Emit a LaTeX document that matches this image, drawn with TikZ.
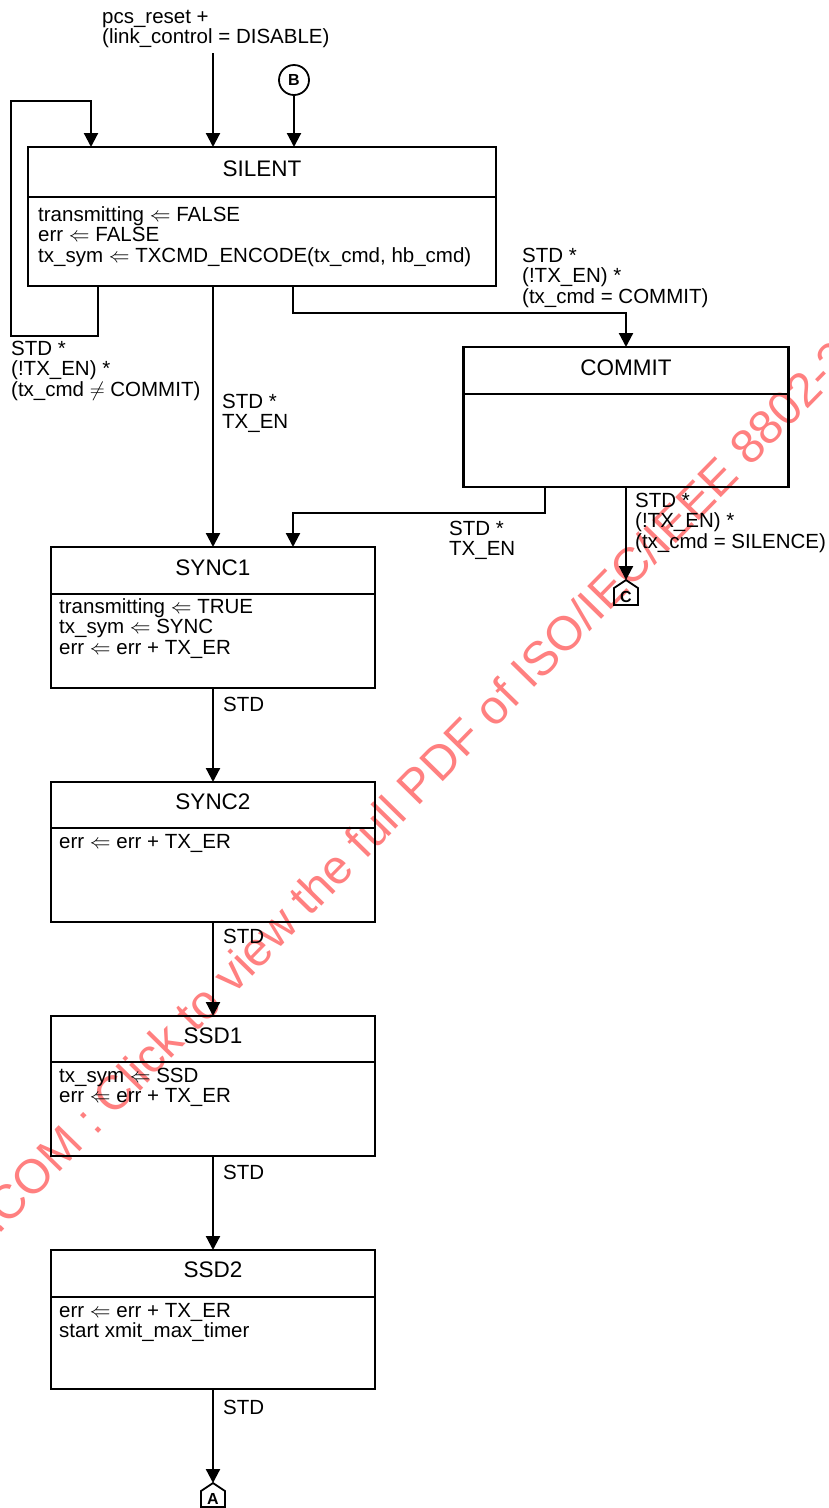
\documentclass[tikz,border=0pt]{standalone}
\usepackage{fontspec}
\setmainfont{Liberation Sans}
\usetikzlibrary{arrows.meta}
\tikzset{
  statebox/.style={draw, line width=2.2pt, inner sep=0pt, outer sep=0pt, minimum width=324pt},
  ttl/.style={anchor=base, inner sep=0pt, font=\fontsize{22.5}{24}\selectfont},
  txt/.style={anchor=base west, align=left, inner sep=0pt, font=\fontsize{20.5}{20.7}\selectfont},
  wire/.style={line width=2.2pt},
  arr/.style={wire, -{Triangle[length=14pt,width=14pt]}},
  conn/.style={line width=1.8pt},
  connlbl/.style={inner sep=0pt, font=\fontsize{16}{16}\selectfont\bfseries},
  wm/.style={anchor=base west, rotate=45.6, inner sep=0pt, text=red!50, font=\fontsize{48}{48}\selectfont}
}
\begin{document}
\begin{tikzpicture}[x=1pt,y=-1pt]
\useasboundingbox (0,0) rectangle (829,1508);
\fill[white] (0,0) rectangle (829,1508);
% watermark
\begin{scope}
\clip (0,0) rectangle (829,1508);
\node[wm] (wmark) at (-2,1236) {.COM : Click to view the full PDF of ISO/IEC/IEEE 8802-3};
\end{scope}

% state boxes
\node[statebox, minimum width=468pt, minimum height=139pt] (silent) at (262,216.5) {};
\node[statebox, minimum width=325pt, minimum height=140pt] (commit) at (626,417) {};
\node[statebox, minimum height=141pt] (sync1) at (213,617.5) {};
\node[statebox, minimum height=140pt] (sync2) at (213,852) {};
\node[statebox, minimum height=140pt] (ssd1) at (213,1086) {};
\node[statebox, minimum height=139pt] (ssd2) at (213,1319.5) {};

% dividers
\draw[wire] ([yshift=-50pt]silent.north west) -- ([yshift=-50pt]silent.north east);
\draw[wire] ([yshift=-47pt]commit.north west) -- ([yshift=-47pt]commit.north east);
\draw[wire] ([yshift=-47pt]sync1.north west) -- ([yshift=-47pt]sync1.north east);
\draw[wire] ([yshift=-46pt]sync2.north west) -- ([yshift=-46pt]sync2.north east);
\draw[wire] ([yshift=-46pt]ssd1.north west) -- ([yshift=-46pt]ssd1.north east);
\draw[wire] ([yshift=-47pt]ssd2.north west) -- ([yshift=-47pt]ssd2.north east);

% titles
\node[ttl] (tsilent) at (262,176) {SILENT};
\node[ttl] (tcommit) at (626,375) {COMMIT};
\node[ttl] (tsync1) at (213,575) {SYNC1};
\node[ttl] (tsync2) at (213,809) {SYNC2};
\node[ttl] (tssd1) at (213,1043) {SSD1};
\node[ttl] (tssd2) at (213,1277) {SSD2};

% bodies (anchor = baseline of last line)
\node[txt] (bsilent) at (38,262.4) {transmitting $\Leftarrow$ FALSE\\err $\Leftarrow$ FALSE\\tx\_sym $\Leftarrow$ TXCMD\_ENCODE(tx\_cmd, hb\_cmd)};
\node[txt] (bsync1) at (59,654.4) {transmitting $\Leftarrow$ TRUE\\tx\_sym $\Leftarrow$ SYNC\\err $\Leftarrow$ err + TX\_ER};
\node[txt] (bsync2) at (59,848) {err $\Leftarrow$ err + TX\_ER};
\node[txt] (bssd1) at (59,1102.7) {tx\_sym $\Leftarrow$ SSD\\err $\Leftarrow$ err + TX\_ER};
\node[txt] (bssd2) at (59,1337.7) {err $\Leftarrow$ err + TX\_ER\\start xmit\_max\_timer};

% entry connectors
\coordinate (rst) at (213,53);
\node[txt] (lrst) at (102,43.7) {pcs\_reset +\\(link\_control = DISABLE)};
\draw[arr] (rst) -- (rst |- silent.north);

\node[draw, circle, line width=1.8pt, minimum size=30pt, inner sep=0pt, font=\fontsize{16}{16}\selectfont\bfseries] (bconn) at (294,80) {B};
\draw[arr] (bconn.south) -- (bconn.south |- silent.north);

% loop on SILENT
\coordinate (lpA) at (98,336);
\coordinate (lpB) at (11,101);
\coordinate (lpC) at (91,101);
\draw[arr] (silent.south -| lpA) -- (lpA) -- (lpA -| lpB) -- (lpB) -- (lpC) -- (lpC |- silent.north);
\node[txt] (lloop) at (11,396.4) {STD *\\(!TX\_EN) *\\(tx\_cmd $\neq$ COMMIT)};

% SILENT -> COMMIT
\coordinate (scA) at (293,313);
\coordinate (scB) at (626,313);
\draw[arr] (silent.south -| scA) -- (scA) -- (scB) -- (commit.north);
\node[txt] (lsc) at (522,303.4) {STD *\\(!TX\_EN) *\\(tx\_cmd = COMMIT)};

% SILENT -> SYNC1
\draw[arr] (silent.south -| sync1.north) -- (sync1.north);
\node[txt] (lss) at (222,428.7) {STD *\\TX\_EN};

% COMMIT -> SYNC1
\coordinate (csA) at (545,513);
\coordinate (csB) at (293,513);
\draw[arr] (commit.south -| csA) -- (csA) -- (csB) -- (csB |- sync1.north);
\node[txt] (lcs) at (449,555.7) {STD *\\TX\_EN};

% COMMIT -> C
\coordinate (cpeak) at (626,580);
\draw[conn] (cpeak) -- ++(12,8) -- ++(0,17) -- ++(-24,0) -- ++(0,-17) -- cycle;
\node[connlbl] (clbl) at (626,597) {C};
\draw[arr] (commit.south) -- (cpeak);
\node[txt] (lcc) at (635,548.4) {STD *\\(!TX\_EN) *\\(tx\_cmd = SILENCE)};

% vertical chain
\draw[arr] (sync1.south) -- (sync2.north);
\node[txt] (l12) at (223,711) {STD};
\draw[arr] (sync2.south) -- (ssd1.north);
\node[txt] (l23) at (223,943) {STD};
\draw[arr] (ssd1.south) -- (ssd2.north);
\node[txt] (l34) at (223,1179) {STD};

% SSD2 -> A
\coordinate (apeak) at (213,1483);
\draw[conn] (apeak) -- ++(12,8) -- ++(0,16) -- ++(-24,0) -- ++(0,-16) -- cycle;
\node[connlbl] (albl) at (213,1499) {A};
\draw[arr] (ssd2.south) -- (apeak);
\node[txt] (l45) at (223,1414) {STD};
\end{tikzpicture}
\end{document}
